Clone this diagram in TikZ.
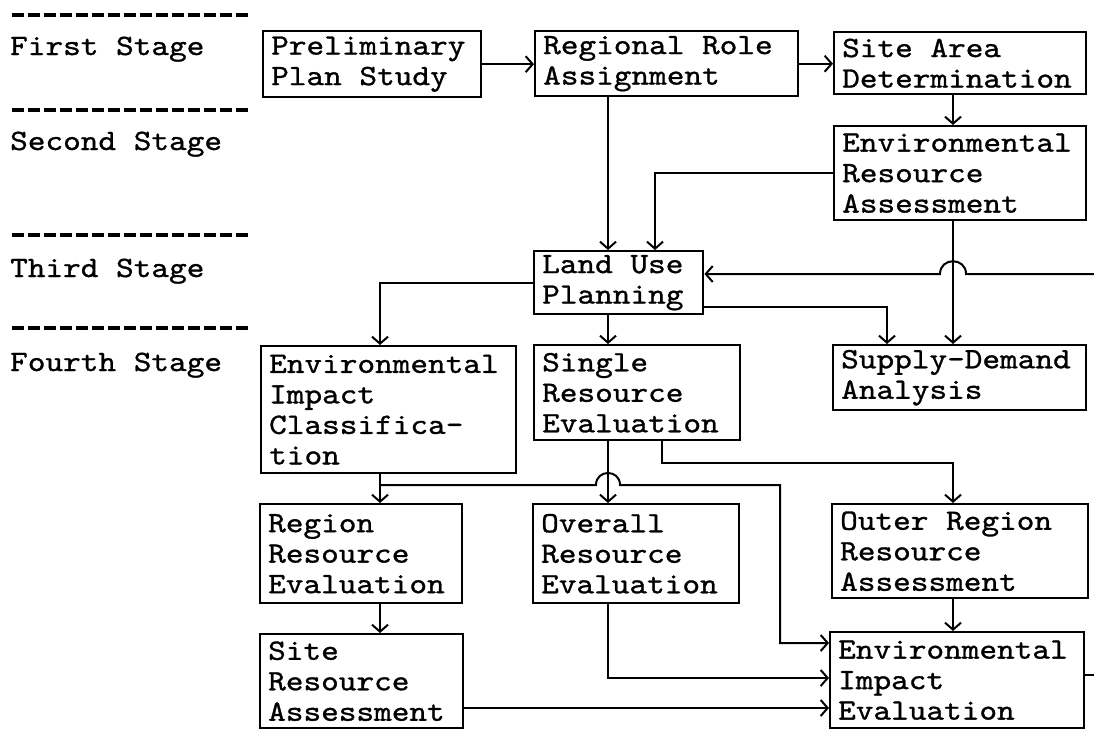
\documentclass[tikz,border=0pt]{standalone}
\usepackage{fontspec}
\usepackage{tikz}
\usetikzlibrary{calc,arrows.meta}
\newfontfamily\typefont{lmmono10-regular}[Extension=.otf,FakeStretch=1.14,FakeBold=1]
\def\boxfont{\typefont\fontsize{29.5}{30.5}\selectfont}
\def\stepbox{\node[draw,line width=2.4pt,anchor=north west,align=left,inner xsep=8pt,inner ysep=0pt,font=\boxfont,execute at begin node={\spaceskip=17.65pt\xspaceskip=17.65pt\relax}]}
\def\stagelabel{\node[anchor=base west,inner sep=0pt,font=\boxfont]}
\def\flow{\draw[line width=2pt,-{Straight Barb[length=7pt,width=16pt]}]}

\begin{document}
\begin{tikzpicture}[x=1pt,y=-1pt]
\useasboundingbox (0,0) rectangle (1094,728);

% stage labels and the rules between them
\foreach \r in {15,110,235,328}
  \draw[line width=3.2pt,dash pattern=on 12pt off 4pt] (12,\r) -- (250,\r);
\stagelabel (first) at (10,55) {First Stage};
\stagelabel (second) at (10,150) {Second Stage};
\stagelabel (third) at (10,277) {Third Stage};
\stagelabel (fourth) at (10,371) {Fourth Stage};

% boxes, placed by their top left corner
\stepbox[text width=202pt,minimum height=66pt] (prelim) at (262,30) {Preliminary\\Plan Study};
\stepbox[text width=247pt,minimum height=65pt] (regional) at (534,30) {Regional Role\\Assignment};
\stepbox[text width=236pt,minimum height=62pt] (site) at (833,31) {Site Area\\Determination};
\stepbox[text width=236pt,minimum height=94pt] (envres) at (833,125) {Environmental\\Resource\\Assessment};
\stepbox[text width=153pt,minimum height=63pt] (landuse) at (533,250) {Land Use\\Planning};
\stepbox[text width=239pt,minimum height=127pt] (impclass) at (260,345) {Environmental\\Impact\\Classifica-\\tion};
\stepbox[text width=190pt,minimum height=95pt] (single) at (533,344) {Single\\Resource\\Evaluation};
\stepbox[text width=237pt,minimum height=65pt] (supply) at (832,344) {Supply-Demand\\Analysis};
\stepbox[text width=186pt,minimum height=99pt] (region) at (259,503) {Region\\Resource\\Evaluation};
\stepbox[text width=190pt,minimum height=99pt] (overall) at (532,503) {Overall\\Resource\\Evaluation};
\stepbox[text width=240pt,minimum height=94pt] (outer) at (831,503) {Outer Region\\Resource\\Assessment};
\stepbox[text width=187pt,minimum height=94pt] (siteres) at (259,633) {Site\\Resource\\Assessment};
\stepbox[text width=238pt,minimum height=96pt] (impeval) at (829,631) {Environmental\\Impact\\Evaluation};

% columns the vertical lines run in
\coordinate (colL) at (380,0);
\coordinate (colM) at (608,0);
\coordinate (colR) at (953,0);

% first to third stage
\flow (prelim.east) -- (prelim.east -| regional.west);
\flow (regional.east) -- (regional.east -| site.west);
\flow (site.south -| colR) -- (envres.north -| colR);
\flow (regional.south -| colM) -- (landuse.north -| colM);
\coordinate (envin) at ($ (landuse.north west) + (122,0) $);
\flow (envres.west) -| (envin);
\flow (landuse.west) -| (impclass.north -| colL);
\flow (landuse.south -| colM) -- (single.north -| colM);
\coordinate (sdin) at ($ (supply.north west) + (55,0) $);
\flow ($ (landuse.south east) + (0,-8) $) -| (sdin);
\flow (envres.south -| colR) -- (supply.north -| colR);

% line coming back from the right, hops over the supply line
\coordinate (fback) at (1094,274);
\flow (fback) -- ($ (fback -| colR) + (13,0) $) .. controls +(0,-17) and +(0,-17) .. ($ (fback -| colR) + (-13,0) $) -- (fback -| landuse.east);

% fourth stage
\flow (impclass.south -| colL) -- (region.north -| colL);
\coordinate (branch) at (780,485);
\flow (colL |- branch) -- ($ (colM |- branch) + (-12,0) $) .. controls +(0,-16) and +(0,-16) .. ($ (colM |- branch) + (12,0) $) -- (branch) |- ($ (impeval.north west) + (0,12) $);
\flow (single.south -| colM) -- (overall.north -| colM);
\coordinate (outerhop) at (662,463);
\flow (single.south -| outerhop) |- (colR |- outerhop) -- (outer.north -| colR);
\flow (region.south -| colL) -- (siteres.north -| colL);
\flow (outer.south -| colR) -- (impeval.north -| colR);
\coordinate (overallin) at ($ (impeval.north west) + (0,47) $);
\flow (overall.south -| colM) |- (overallin);
\coordinate (siteout) at ($ (siteres.north east) + (0,75) $);
\flow (siteout) -- (siteout -| impeval.west);
\coordinate (evalout) at (1094,675);
\draw[line width=2pt] (evalout -| impeval.east) -- (evalout);
\end{tikzpicture}
\end{document}
